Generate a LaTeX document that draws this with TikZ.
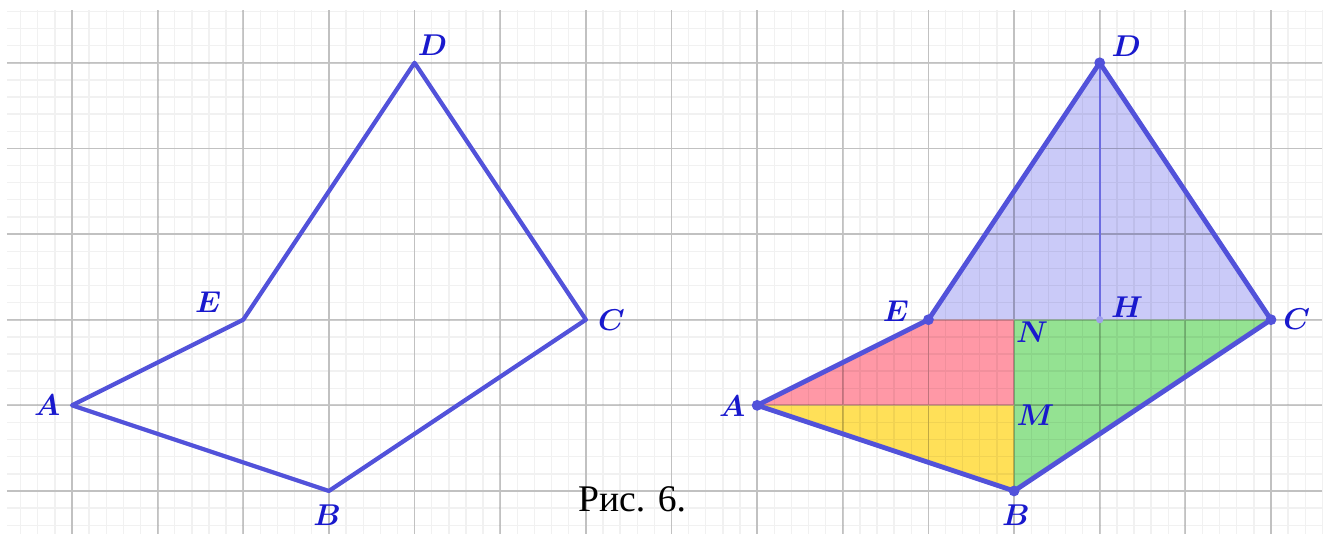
\documentclass[tikz,border=0pt]{standalone}
\usepackage{fontspec}
\usepackage{amsmath}
\usepackage{amssymb}
\newfontfamily\capfont{Liberation Serif}
\usetikzlibrary{positioning}
\definecolor{edgeblue}{RGB}{82,82,218}
\definecolor{lblblue}{RGB}{25,25,205}
\definecolor{lavfill}{RGB}{202,202,248}
\definecolor{redfill}{RGB}{255,152,166}
\definecolor{yelfill}{RGB}{255,224,88}
\definecolor{grnfill}{RGB}{148,226,146}
\newcommand{\pname}[1]{$\boldsymbol{#1}$}

\begin{document}
\begin{tikzpicture}[
    minor/.style={draw=black,draw opacity=0.055,line width=0.45pt},
    major/.style={draw=black,draw opacity=0.2,line width=0.6pt},
    edge/.style={draw=edgeblue,line width=1.4pt,line join=round},
    lbl/.style={text=lblblue,font=\normalsize,inner sep=0pt},
    pt/.style={circle,fill=edgeblue,inner sep=0pt,minimum size=3.6pt}
  ]
    \useasboundingbox (-0.841,-0.502) rectangle (14.689,5.733);

    % points of the left figure
    \coordinate (A) at (0,1);
    \coordinate (B) at (3,0);
    \coordinate (C) at (6,2);
    \coordinate (D) at (4,5);
    \coordinate (E) at (2,2);

    % points of the right figure
    \coordinate (A2) at (8,1);
    \coordinate (B2) at (11,0);
    \coordinate (C2) at (14,2);
    \coordinate (D2) at (12,5);
    \coordinate (E2) at (10,2);
    \coordinate (N) at (11,2);
    \coordinate (M) at (11,1);
    \coordinate (H) at (12,2);

    % coloured parts
    \fill[lavfill] (E2) -- (D2) -- (C2) -- cycle;
    \fill[redfill] (A2) -- (E2) -- (N) -- (M) -- cycle;
    \fill[yelfill] (A2) -- (M) -- (B2) -- cycle;
    \fill[grnfill] (N) -- (C2) -- (B2) -- cycle;

    % squared paper
    \draw[minor] (-0.76,-0.502) grid[step=0.2] (14.6,5.62);
    \draw[major] (-0.76,-0.502) grid[step=1] (14.6,5.62);

    % left figure
    \draw[edge] (A) -- (E) -- (D) -- (C) -- (B) -- cycle;
    \node[lbl] (lA) at (-0.29,1.0) {\pname{A}};
    \node[lbl] (lB) at (2.98,-0.28) {\pname{B}};
    \node[lbl] (lC) at (6.30,2.0) {\pname{C}};
    \node[lbl] (lD) at (4.21,5.21) {\pname{D}};
    \node[lbl] (lE) at (1.59,2.20) {\pname{E}};

    % right figure
    \draw[draw=edgeblue!85,line width=0.8pt] (D2) -- (H);
    \draw[edge,line width=1.6pt] (A2) -- (E2) -- (D2) -- (C2) -- (B2) -- cycle;
    \foreach \p in {A2,B2,C2,D2,E2}
      \node[pt] at (\p) {};
    \node[circle,fill=edgeblue!55,inner sep=0pt,minimum size=2.4pt] at (H) {};
    \node[lbl] (lA2) at (7.71,0.99) {\pname{A}};
    \node[lbl] (lB2) at (11.02,-0.28) {\pname{B}};
    \node[lbl] (lC2) at (14.30,2.01) {\pname{C}};
    \node[lbl] (lD2) at (12.31,5.19) {\pname{D}};
    \node[lbl] (lE2) at (9.62,2.10) {\pname{E}};
    \node[lbl] (lN) at (11.21,1.85) {\pname{N}};
    \node[lbl] (lM) at (11.25,0.88) {\pname{M}};
    \node[lbl] (lH) at (12.32,2.15) {\pname{H}};

    \node[font=\capfont\fontsize{12.5}{15}\selectfont] (cap) at (6.54,-0.10) {Рис. 6.};
  \end{tikzpicture}
\end{document}
